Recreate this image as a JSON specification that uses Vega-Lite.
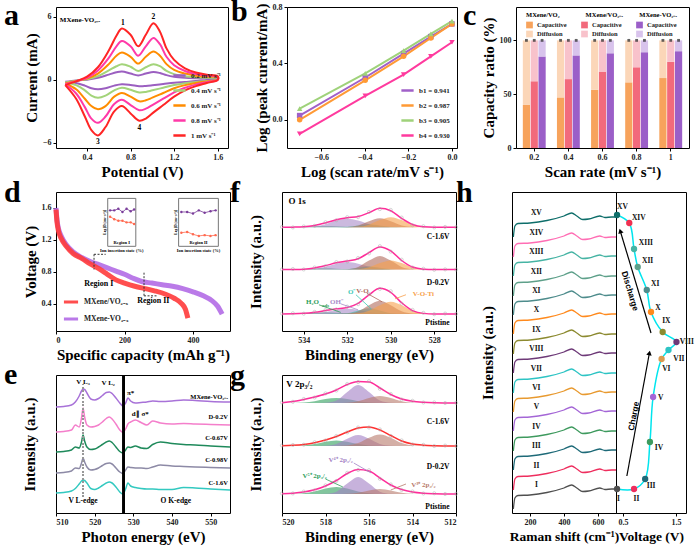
{
"$schema": "https://vega.github.io/schema/vega-lite/v6.json",
"background": "white",
"padding": {"left": 3, "top": -4, "right": 0, "bottom": 0},
"config": {
 "font": "Liberation Serif",
 "view": {"stroke": "#000", "strokeWidth": 1},
 "axis": {"grid": false, "domain": false, "labelFont": "Liberation Serif", "labelFontWeight": "bold", "labelFontSize": 8, "labelColor": "#222", "titleFont": "Liberation Serif", "titleFontWeight": "bold", "titleFontSize": 15, "titleColor": "#000", "tickColor": "#000", "tickSize": 3, "labelPadding": 2, "titlePadding": 3},
 "legend": {"labelFont": "Liberation Serif", "labelFontWeight": "bold", "labelFontSize": 7, "labelColor": "#222", "titleFont": "Liberation Serif", "titleFontWeight": "bold", "titleFontSize": 7, "padding": 2, "rowPadding": 1},
 "title": {"font": "Liberation Serif", "fontSize": 30, "fontWeight": "bold", "anchor": "start", "frame": "group", "offset": 0, "baseline": "alphabetic", "color": "#000"},
 "text": {"font": "Liberation Serif", "fontWeight": "bold"}
},
"spacing": -3,
"resolve": {"scale": {"color": "independent", "shape": "independent", "size": "independent", "angle": "independent"}, "legend": {"color": "independent", "shape": "independent"}},
"vconcat": [
{
 "spacing": 59,
 "bounds": "flush",
 "resolve": {"scale": {"color": "independent", "shape": "independent", "size": "independent", "angle": "independent"}, "legend": {"color": "independent", "shape": "independent"}},
 "hconcat": [
 {
  "width": 172, "height": 141,
  "title": {"text": "a", "dx": -52, "dy": 27.5},
  "data": {"values": [
{"i":0,"p":0.2,"r02":-0.18,"r04":-0.25,"r06":-0.35,"r08":-0.42,"r1":-0.5},
{"i":1,"p":0.3,"r02":-0.05,"r04":-0.08,"r06":-0.1,"r08":-0.12,"r1":-0.15},
{"i":2,"p":0.4,"r02":0.02,"r04":0.05,"r06":0.12,"r08":0.2,"r1":0.3},
{"i":3,"p":0.5,"r02":0.2,"r04":0.35,"r06":0.6,"r08":0.9,"r1":1.2},
{"i":4,"p":0.6,"r02":0.5,"r04":0.9,"r06":1.5,"r08":2.1,"r1":2.8},
{"i":5,"p":0.67,"r02":0.72,"r04":1.3,"r06":2.3,"r08":3.2,"r1":4.2},
{"i":6,"p":0.72,"r02":0.8,"r04":1.5,"r06":2.6,"r08":3.7,"r1":4.9},
{"i":7,"p":0.8,"r02":0.6,"r04":1.25,"r06":2.2,"r08":3.2,"r1":4.3},
{"i":8,"p":0.87,"r02":0.42,"r04":0.85,"r06":1.55,"r08":2.3,"r1":3.2},
{"i":9,"p":0.94,"r02":0.6,"r04":1.2,"r06":2.2,"r08":3.2,"r1":4.3},
{"i":10,"p":1.01,"r02":0.75,"r04":1.5,"r06":2.7,"r08":4.0,"r1":5.4},
{"i":11,"p":1.07,"r02":0.65,"r04":1.3,"r06":2.3,"r08":3.4,"r1":4.6},
{"i":12,"p":1.13,"r02":0.45,"r04":0.85,"r06":1.5,"r08":2.2,"r1":3.0},
{"i":13,"p":1.2,"r02":0.3,"r04":0.55,"r06":0.95,"r08":1.4,"r1":1.9},
{"i":14,"p":1.3,"r02":0.2,"r04":0.35,"r06":0.6,"r08":0.85,"r1":1.1},
{"i":15,"p":1.4,"r02":0.15,"r04":0.25,"r06":0.4,"r08":0.55,"r1":0.7},
{"i":16,"p":1.5,"r02":0.12,"r04":0.2,"r06":0.3,"r08":0.4,"r1":0.5},
{"i":17,"p":1.6,"r02":0.1,"r04":0.18,"r06":0.25,"r08":0.3,"r1":0.35},
{"i":18,"p":1.6,"r02":0.04,"r04":0.03,"r06":0.02,"r08":0.0,"r1":0.0},
{"i":19,"p":1.5,"r02":-0.06,"r04":-0.1,"r06":-0.15,"r08":-0.22,"r1":-0.3},
{"i":20,"p":1.4,"r02":-0.12,"r04":-0.2,"r06":-0.3,"r08":-0.45,"r1":-0.6},
{"i":21,"p":1.3,"r02":-0.2,"r04":-0.32,"r06":-0.5,"r08":-0.75,"r1":-1.0},
{"i":22,"p":1.2,"r02":-0.28,"r04":-0.5,"r06":-0.8,"r08":-1.2,"r1":-1.6},
{"i":23,"p":1.1,"r02":-0.4,"r04":-0.75,"r06":-1.25,"r08":-1.8,"r1":-2.4},
{"i":24,"p":1.0,"r02":-0.52,"r04":-1.0,"r06":-1.7,"r08":-2.4,"r1":-3.2},
{"i":25,"p":0.94,"r02":-0.58,"r04":-1.15,"r06":-1.95,"r08":-2.75,"r1":-3.7},
{"i":26,"p":0.88,"r02":-0.6,"r04":-1.2,"r06":-2.05,"r08":-2.9,"r1":-3.9},
{"i":27,"p":0.8,"r02":-0.48,"r04":-0.95,"r06":-1.6,"r08":-2.4,"r1":-3.2},
{"i":28,"p":0.72,"r02":-0.42,"r04":-0.75,"r06":-1.25,"r08":-1.9,"r1":-2.5},
{"i":29,"p":0.65,"r02":-0.55,"r04":-1.0,"r06":-1.6,"r08":-2.3,"r1":-3.0},
{"i":30,"p":0.57,"r02":-0.8,"r04":-1.5,"r06":-2.5,"r08":-3.5,"r1":-4.5},
{"i":31,"p":0.5,"r02":-0.9,"r04":-1.7,"r06":-2.8,"r08":-4.1,"r1":-5.3},
{"i":32,"p":0.44,"r02":-0.8,"r04":-1.5,"r06":-2.5,"r08":-3.7,"r1":-4.8},
{"i":33,"p":0.38,"r02":-0.55,"r04":-1.0,"r06":-1.8,"r08":-2.6,"r1":-3.5},
{"i":34,"p":0.3,"r02":-0.3,"r04":-0.5,"r06":-0.9,"r08":-1.3,"r1":-1.8},
{"i":35,"p":0.2,"r02":-0.18,"r04":-0.25,"r06":-0.35,"r08":-0.42,"r1":-0.5}
  ]},
  "layer": [
   {"transform": [{"fold": ["r02","r04","r06","r08","r1"], "as": ["rate","cur"]}],
    "mark": {"type": "line", "interpolate": "catmull-rom", "strokeWidth": 2},
    "encoding": {
     "x": {"field": "p", "type": "quantitative", "scale": {"domain": [0.115, 1.695], "nice": false, "zero": false}, "axis": {"values": [0.4,0.8,1.2,1.6], "format": ".1f", "title": "Potential (V)"}},
     "y": {"field": "cur", "type": "quantitative", "scale": {"domain": [-6.5, 6.95], "nice": false, "zero": false}, "axis": {"values": [-6,-3,0,3,6], "title": "Current (mA)"}},
     "color": {"field": "rate", "type": "nominal", "scale": {"domain": ["r02","r04","r06","r08","r1"], "range": ["#9B5FC0","#A3D47A","#FF8C00","#FF3AA8","#FF2525"]},
      "legend": {"title": null, "orient": "bottom-right", "offset": 5, "symbolType": "stroke", "symbolSize": 150, "symbolStrokeWidth": 2.5, "labelFontSize": 7, "rowPadding": 2, "labelExpr": "datum.value=='r02'?'0.2 mV s⁻¹':datum.value=='r04'?'0.4 mV s⁻¹':datum.value=='r06'?'0.6 mV s⁻¹':datum.value=='r08'?'0.8 mV s⁻¹':'1 mV s⁻¹'"}},
     "order": {"field": "i", "type": "quantitative"}
    }},
   {"data": {"values": [{"x":0.15,"y":5.75,"t":"MXene-VO₂₋ₓ"}]},
    "mark": {"type": "text", "align": "left", "baseline": "middle", "fontSize": 7},
    "encoding": {"x": {"field": "x", "type": "quantitative"}, "y": {"field": "y", "type": "quantitative"}, "text": {"field": "t"}}},
   {"data": {"values": [{"x":0.73,"y":5.45,"t":"1"},{"x":1.01,"y":5.95,"t":"2"},{"x":0.5,"y":-5.95,"t":"3"},{"x":0.88,"y":-4.55,"t":"4"}]},
    "mark": {"type": "text", "align": "center", "baseline": "middle", "fontSize": 7.5},
    "encoding": {"x": {"field": "x", "type": "quantitative"}, "y": {"field": "y", "type": "quantitative"}, "text": {"field": "t"}}}
  ]
 },
 {
  "width": 170, "height": 141,
  "title": {"text": "b", "dx": -56, "dy": 27.5},
  "data": {"values": [
{"x":-0.699,"s":"b1 = 0.941","y":0.03},{"x":-0.398,"s":"b1 = 0.941","y":0.30},{"x":-0.222,"s":"b1 = 0.941","y":0.47},{"x":-0.097,"s":"b1 = 0.941","y":0.59},{"x":0,"s":"b1 = 0.941","y":0.68},
{"x":-0.699,"s":"b2 = 0.987","y":0.0},{"x":-0.398,"s":"b2 = 0.987","y":0.28},{"x":-0.222,"s":"b2 = 0.987","y":0.45},{"x":-0.097,"s":"b2 = 0.987","y":0.58},{"x":0,"s":"b2 = 0.987","y":0.68},
{"x":-0.699,"s":"b3 = 0.905","y":0.08},{"x":-0.398,"s":"b3 = 0.905","y":0.33},{"x":-0.222,"s":"b3 = 0.905","y":0.49},{"x":-0.097,"s":"b3 = 0.905","y":0.61},{"x":0,"s":"b3 = 0.905","y":0.70},
{"x":-0.699,"s":"b4 = 0.930","y":-0.10},{"x":-0.398,"s":"b4 = 0.930","y":0.17},{"x":-0.222,"s":"b4 = 0.930","y":0.32},{"x":-0.097,"s":"b4 = 0.930","y":0.45},{"x":0,"s":"b4 = 0.930","y":0.55}
  ]},
  "encoding": {
   "x": {"field": "x", "type": "quantitative", "scale": {"domain": [-0.757, 0.023], "nice": false, "zero": false}, "axis": {"values": [-0.6,-0.4,-0.2,0], "format": ".1f", "title": "Log (scan rate/mV s⁻¹)"}},
   "y": {"field": "y", "type": "quantitative", "scale": {"domain": [-0.2, 0.8], "nice": false, "zero": false}, "axis": {"values": [0,0.4,0.8], "format": ".1f", "title": "Log (peak current/mA)"}},
   "color": {"field": "s", "type": "nominal", "scale": {"domain": ["b1 = 0.941","b2 = 0.987","b3 = 0.905","b4 = 0.930"], "range": ["#A060C8","#FF9A35","#9FD27A","#FF3A9E"]},
    "legend": {"title": null, "orient": "bottom-right", "offset": 5, "symbolType": "stroke", "symbolSize": 150, "symbolStrokeWidth": 2.5, "labelFontSize": 7, "rowPadding": 2}}
  },
  "layer": [
   {"mark": {"type": "line", "strokeWidth": 2}},
   {"transform": [{"filter": "datum.s=='b1 = 0.941'"}], "mark": {"type": "point", "shape": "square", "filled": true, "size": 30, "opacity": 1}},
   {"transform": [{"filter": "datum.s=='b2 = 0.987'"}], "mark": {"type": "point", "shape": "circle", "filled": true, "size": 30, "opacity": 1}},
   {"transform": [{"filter": "datum.s=='b3 = 0.905'"}], "mark": {"type": "point", "shape": "triangle-up", "filled": true, "size": 30, "opacity": 1}},
   {"transform": [{"filter": "datum.s=='b4 = 0.930'"}], "mark": {"type": "point", "shape": "triangle-down", "filled": true, "size": 30, "opacity": 1}}
  ]
 },
 {
  "width": 173, "height": 141,
  "title": {"text": "c", "dx": -53, "dy": 27.5},
  "data": {"values": [
{"r":"0.2","m":"A","k":"A1","part":1,"v":40},{"r":"0.2","m":"A","k":"A2","part":2,"v":60},
{"r":"0.2","m":"B","k":"B1","part":1,"v":62},{"r":"0.2","m":"B","k":"B2","part":2,"v":38},
{"r":"0.2","m":"C","k":"C1","part":1,"v":85},{"r":"0.2","m":"C","k":"C2","part":2,"v":15},
{"r":"0.4","m":"A","k":"A1","part":1,"v":47},{"r":"0.4","m":"A","k":"A2","part":2,"v":53},
{"r":"0.4","m":"B","k":"B1","part":1,"v":64},{"r":"0.4","m":"B","k":"B2","part":2,"v":36},
{"r":"0.4","m":"C","k":"C1","part":1,"v":86},{"r":"0.4","m":"C","k":"C2","part":2,"v":14},
{"r":"0.6","m":"A","k":"A1","part":1,"v":54},{"r":"0.6","m":"A","k":"A2","part":2,"v":46},
{"r":"0.6","m":"B","k":"B1","part":1,"v":71},{"r":"0.6","m":"B","k":"B2","part":2,"v":29},
{"r":"0.6","m":"C","k":"C1","part":1,"v":88},{"r":"0.6","m":"C","k":"C2","part":2,"v":12},
{"r":"0.8","m":"A","k":"A1","part":1,"v":61},{"r":"0.8","m":"A","k":"A2","part":2,"v":39},
{"r":"0.8","m":"B","k":"B1","part":1,"v":75},{"r":"0.8","m":"B","k":"B2","part":2,"v":25},
{"r":"0.8","m":"C","k":"C1","part":1,"v":89},{"r":"0.8","m":"C","k":"C2","part":2,"v":11},
{"r":"1","m":"A","k":"A1","part":1,"v":65},{"r":"1","m":"A","k":"A2","part":2,"v":35},
{"r":"1","m":"B","k":"B1","part":1,"v":80},{"r":"1","m":"B","k":"B2","part":2,"v":20},
{"r":"1","m":"C","k":"C1","part":1,"v":90},{"r":"1","m":"C","k":"C2","part":2,"v":10}
  ]},
  "encoding": {
   "x": {"field": "r", "type": "nominal", "scale": {"paddingInner": 0.33, "paddingOuter": 0.2}, "axis": {"labelAngle": 0, "title": "Scan rate (mV s⁻¹)", "ticks": true}},
   "xOffset": {"field": "m", "type": "nominal", "scale": {"paddingInner": 0.08}}
  },
  "layer": [
   {"mark": {"type": "bar"},
    "encoding": {
     "y": {"field": "v", "type": "quantitative", "stack": "zero", "scale": {"domain": [0, 131], "nice": false}, "axis": {"values": [0,50,100], "title": "Capacity ratio (%)"}},
     "color": {"field": "k", "type": "nominal", "scale": {"domain": ["A1","A2","B1","B2","C1","C2"], "range": ["#F7A35C","#FBD6B8","#F26A7C","#F8C2CB","#9B5FC8","#D8C3EC"]},
      "legend": {"orient": "none", "legendX": 8, "legendY": 3, "columns": 3, "columnPadding": 14, "rowPadding": 2, "symbolType": "square", "symbolSize": 45, "symbolStrokeWidth": 0, "labelFontSize": 6.5, "titleFontSize": 6.5, "titlePadding": 3, "title": "MXene/VO₂\u00a0\u00a0\u00a0\u00a0\u00a0\u00a0\u00a0\u00a0\u00a0\u00a0\u00a0\u00a0\u00a0\u00a0\u00a0\u00a0MXene/VO₂₋ₓ\u00a0\u00a0\u00a0\u00a0\u00a0\u00a0\u00a0\u00a0\u00a0\u00a0MXene-VO₂₋ₓ", "labelExpr": "datum.value[1]=='1' ? 'Capacitive' : 'Diffusion'"}},
     "order": {"field": "part", "type": "quantitative"}
    }},
   {"transform": [{"filter": "datum.part==2"}],
    "mark": {"type": "point", "shape": "square", "filled": true, "color": "#222", "size": 8},
    "encoding": {"y": {"datum": 100}}}
  ]
 }
 ]
},
{
 "spacing": -5,
 "resolve": {"scale": {"color": "independent", "shape": "independent", "size": "independent", "angle": "independent"}, "legend": {"color": "independent", "shape": "independent"}},
 "hconcat": [
  {
   "spacing": 44,
   "bounds": "flush",
   "resolve": {"scale": {"color": "independent", "shape": "independent", "size": "independent", "angle": "independent"}, "legend": {"color": "independent", "shape": "independent"}},
   "vconcat": [
   {
    "width": 174, "height": 139,
    "title": {"text": "d", "dx": -52, "dy": 19.5},
    "resolve": {"scale": {"color": "independent"}, "legend": {"color": "independent"}},
    "layer": [
     {"data": {"values": [{"x":151,"x2":233,"y":1.12,"y2":1.72},{"x":358,"x2":474,"y":1.12,"y2":1.72}]},
      "mark": {"type": "rect", "fill": "white", "stroke": "#777", "strokeWidth": 1},
      "encoding": {"x": {"field": "x", "type": "quantitative", "scale": {"domain": [0, 508], "nice": false}, "axis": {"values": [0,100,200,300,400,500], "title": "Specific capacity (mAh g⁻¹)"}}, "x2": {"field": "x2"},
       "y": {"field": "y", "type": "quantitative", "scale": {"domain": [0.06, 1.8], "nice": false, "zero": false}, "axis": {"values": [0.4,0.8,1.2,1.6], "format": ".1f", "title": "Voltage (V)"}}, "y2": {"field": "y2"}}},
     {"data": {"values": [
{"g":"1p","x":158,"y":1.57},{"g":"1p","x":170,"y":1.57},{"g":"1p","x":182,"y":1.59},{"g":"1p","x":194,"y":1.55},{"g":"1p","x":206,"y":1.59},{"g":"1p","x":218,"y":1.56},{"g":"1p","x":228,"y":1.58},
{"g":"1r","x":158,"y":1.49},{"g":"1r","x":170,"y":1.46},{"g":"1r","x":182,"y":1.44},{"g":"1r","x":194,"y":1.44},{"g":"1r","x":206,"y":1.42},{"g":"1r","x":218,"y":1.42},{"g":"1r","x":228,"y":1.40},
{"g":"2p","x":366,"y":1.55},{"g":"2p","x":383,"y":1.55},{"g":"2p","x":400,"y":1.53},{"g":"2p","x":417,"y":1.57},{"g":"2p","x":434,"y":1.54},{"g":"2p","x":451,"y":1.56},{"g":"2p","x":466,"y":1.57},
{"g":"2r","x":366,"y":1.29},{"g":"2r","x":383,"y":1.30},{"g":"2r","x":400,"y":1.27},{"g":"2r","x":417,"y":1.25},{"g":"2r","x":434,"y":1.26},{"g":"2r","x":451,"y":1.25},{"g":"2r","x":466,"y":1.26}
      ]},
      "encoding": {"x": {"field": "x", "type": "quantitative"}, "y": {"field": "y", "type": "quantitative"},
       "color": {"field": "g", "type": "nominal", "scale": {"domain": ["1p","1r","2p","2r"], "range": ["#7A3D9A","#FF6A50","#7A3D9A","#FF6A50"]}, "legend": null}},
      "layer": [
       {"mark": {"type": "line", "strokeWidth": 0.8}},
       {"mark": {"type": "point", "filled": true, "size": 6, "opacity": 1}}
      ]},
     {"data": {"values": [{"x":192,"y":1.06,"t":"Ion insertion state (%)"},{"x":416,"y":1.06,"t":"Ion insertion state (%)"},{"x":192,"y":1.165,"t":"Region I"},{"x":416,"y":1.165,"t":"Region II"}]},
      "mark": {"type": "text", "fontSize": 4.5, "baseline": "middle"},
      "encoding": {"x": {"field": "x", "type": "quantitative"}, "y": {"field": "y", "type": "quantitative"}, "text": {"field": "t"}}},
     {"data": {"values": [{"x":143,"y":1.42,"t":"Log [D (cm² s⁻¹)]"},{"x":350,"y":1.42,"t":"Log [D (cm² s⁻¹)]"}]},
      "mark": {"type": "text", "fontSize": 3.5, "angle": -90, "baseline": "middle"},
      "encoding": {"x": {"field": "x", "type": "quantitative"}, "y": {"field": "y", "type": "quantitative"}, "text": {"field": "t"}}},
     {"data": {"values": [
{"c":"MXene-VO₂₋ₓ","x":0,"y":1.6},{"c":"MXene-VO₂₋ₓ","x":3,"y":1.45},{"c":"MXene-VO₂₋ₓ","x":8,"y":1.33},{"c":"MXene-VO₂₋ₓ","x":15,"y":1.25},{"c":"MXene-VO₂₋ₓ","x":30,"y":1.14},{"c":"MXene-VO₂₋ₓ","x":50,"y":1.05},{"c":"MXene-VO₂₋ₓ","x":75,"y":0.98},{"c":"MXene-VO₂₋ₓ","x":100,"y":0.93},{"c":"MXene-VO₂₋ₓ","x":125,"y":0.89},{"c":"MXene-VO₂₋ₓ","x":150,"y":0.85},{"c":"MXene-VO₂₋ₓ","x":175,"y":0.81},{"c":"MXene-VO₂₋ₓ","x":200,"y":0.77},{"c":"MXene-VO₂₋ₓ","x":225,"y":0.72},{"c":"MXene-VO₂₋ₓ","x":250,"y":0.68},{"c":"MXene-VO₂₋ₓ","x":280,"y":0.66},{"c":"MXene-VO₂₋ₓ","x":310,"y":0.64},{"c":"MXene-VO₂₋ₓ","x":340,"y":0.62},{"c":"MXene-VO₂₋ₓ","x":370,"y":0.59},{"c":"MXene-VO₂₋ₓ","x":400,"y":0.55},{"c":"MXene-VO₂₋ₓ","x":430,"y":0.5},{"c":"MXene-VO₂₋ₓ","x":455,"y":0.44},{"c":"MXene-VO₂₋ₓ","x":472,"y":0.37},{"c":"MXene-VO₂₋ₓ","x":485,"y":0.27},
{"c":"MXene/VO₂₋ₓ","x":0,"y":1.58},{"c":"MXene/VO₂₋ₓ","x":3,"y":1.42},{"c":"MXene/VO₂₋ₓ","x":8,"y":1.3},{"c":"MXene/VO₂₋ₓ","x":15,"y":1.22},{"c":"MXene/VO₂₋ₓ","x":30,"y":1.12},{"c":"MXene/VO₂₋ₓ","x":50,"y":1.03},{"c":"MXene/VO₂₋ₓ","x":75,"y":0.97},{"c":"MXene/VO₂₋ₓ","x":100,"y":0.9},{"c":"MXene/VO₂₋ₓ","x":125,"y":0.84},{"c":"MXene/VO₂₋ₓ","x":150,"y":0.77},{"c":"MXene/VO₂₋ₓ","x":175,"y":0.7},{"c":"MXene/VO₂₋ₓ","x":200,"y":0.66},{"c":"MXene/VO₂₋ₓ","x":230,"y":0.62},{"c":"MXene/VO₂₋ₓ","x":260,"y":0.59},{"c":"MXene/VO₂₋ₓ","x":290,"y":0.56},{"c":"MXene/VO₂₋ₓ","x":320,"y":0.52},{"c":"MXene/VO₂₋ₓ","x":345,"y":0.47},{"c":"MXene/VO₂₋ₓ","x":365,"y":0.41},{"c":"MXene/VO₂₋ₓ","x":378,"y":0.33},{"c":"MXene/VO₂₋ₓ","x":385,"y":0.22}
      ]},
      "mark": {"type": "line", "strokeWidth": 5, "opacity": 0.9, "interpolate": "monotone"},
      "encoding": {"x": {"field": "x", "type": "quantitative"}, "y": {"field": "y", "type": "quantitative"},
       "color": {"field": "c", "type": "nominal", "scale": {"domain": ["MXene/VO₂₋ₓ","MXene-VO₂₋ₓ"], "range": ["#FF3B3B","#B36BE6"]},
        "legend": {"title": null, "orient": "bottom-left", "offset": 4, "symbolType": "stroke", "symbolSize": 200, "symbolStrokeWidth": 3, "labelFontSize": 7.5, "rowPadding": 2}}}},
     {"data": {"values": [{"x":111,"y":1.02,"x2":111,"y2":0.83},{"x":111,"y":1.02,"x2":145,"y2":1.02},{"x":257,"y":0.79,"x2":257,"y2":0.5},{"x":257,"y":0.5,"x2":296,"y2":0.5}]},
      "mark": {"type": "rule", "strokeDash": [2, 1.5], "color": "#333", "strokeWidth": 1},
      "encoding": {"x": {"field": "x", "type": "quantitative"}, "y": {"field": "y", "type": "quantitative"}, "x2": {"field": "x2"}, "y2": {"field": "y2"}}},
     {"data": {"values": [{"x":125,"y":0.65,"t":"Region I"},{"x":284,"y":0.43,"t":"Region II"}]},
      "mark": {"type": "text", "fontSize": 8, "baseline": "middle"},
      "encoding": {"x": {"field": "x", "type": "quantitative"}, "y": {"field": "y", "type": "quantitative"}, "text": {"field": "t"}}}
    ]
   },
   {
    "width": 174, "height": 138,
    "title": {"text": "e", "dx": -52, "dy": 19.5},
    "data": {"values": [
{"x":510,"m":10.6,"dd":8.1,"c67":6.1,"c98":4.0,"c16":2.0},
{"x":512,"m":10.65,"dd":8.15,"c67":6.15,"c98":4.05,"c16":2.05},
{"x":514,"m":10.8,"dd":8.3,"c67":6.3,"c98":4.2,"c16":2.2},
{"x":515,"m":11.1,"dd":8.8,"c67":6.6,"c98":4.5,"c16":2.45},
{"x":516,"m":11.7,"dd":8.6,"c67":6.5,"c98":4.45,"c16":2.9},
{"x":516.6,"m":12.2,"dd":9.5,"c67":7.1,"c98":5.0,"c16":3.2},
{"x":517,"m":12.4,"dd":10.5,"c67":7.8,"c98":5.5,"c16":3.3},
{"x":517.4,"m":12.35,"dd":9.6,"c67":7.2,"c98":5.1,"c16":3.25},
{"x":518,"m":12.0,"dd":8.8,"c67":6.6,"c98":4.6,"c16":3.0},
{"x":519,"m":11.4,"dd":8.6,"c67":6.35,"c98":4.3,"c16":2.45},
{"x":520,"m":11.3,"dd":8.65,"c67":6.4,"c98":4.35,"c16":2.35},
{"x":521,"m":11.45,"dd":8.8,"c67":6.6,"c98":4.5,"c16":2.5},
{"x":522,"m":11.75,"dd":9.1,"c67":6.85,"c98":4.75,"c16":2.75},
{"x":523,"m":12.05,"dd":9.45,"c67":7.1,"c98":4.95,"c16":3.0},
{"x":523.8,"m":12.1,"dd":9.6,"c67":7.2,"c98":5.0,"c16":3.1},
{"x":524.5,"m":11.95,"dd":9.4,"c67":7.05,"c98":4.9,"c16":3.0},
{"x":525.5,"m":11.5,"dd":8.9,"c67":6.6,"c98":4.5,"c16":2.6},
{"x":526.5,"m":11.0,"dd":8.3,"c67":6.15,"c98":4.1,"c16":2.1},
{"x":527.3,"m":10.7,"dd":8.05,"c67":6.0,"c98":3.95,"c16":1.9},
{"x":528,"m":11.0,"dd":8.4,"c67":6.3,"c98":4.3,"c16":2.4},
{"x":528.6,"m":11.5,"dd":8.9,"c67":6.6,"c98":4.6,"c16":3.0},
{"x":529.3,"m":11.2,"dd":9.1,"c67":6.55,"c98":4.55,"c16":2.7},
{"x":530.5,"m":11.0,"dd":9.3,"c67":6.7,"c98":4.5,"c16":2.55},
{"x":532,"m":11.05,"dd":9.05,"c67":6.5,"c98":4.5,"c16":2.45},
{"x":533.5,"m":11.1,"dd":8.8,"c67":6.45,"c98":4.45,"c16":2.4},
{"x":535,"m":11.2,"dd":9.2,"c67":6.85,"c98":4.6,"c16":2.4},
{"x":537,"m":11.15,"dd":9.0,"c67":7.1,"c98":4.8,"c16":2.35},
{"x":540,"m":11.2,"dd":8.9,"c67":6.95,"c98":4.7,"c16":2.35},
{"x":543,"m":11.3,"dd":8.95,"c67":6.85,"c98":4.65,"c16":2.55},
{"x":546,"m":11.25,"dd":8.9,"c67":6.8,"c98":4.6,"c16":2.5},
{"x":550,"m":11.15,"dd":8.85,"c67":6.7,"c98":4.55,"c16":2.4},
{"x":555,"m":11.1,"dd":8.8,"c67":6.6,"c98":4.5,"c16":2.3}
    ]},
    "layer": [
     {"transform": [{"fold": ["m","dd","c67","c98","c16"], "as": ["k","val"]}],
      "mark": {"type": "line", "interpolate": "monotone", "strokeWidth": 1.5},
      "encoding": {
       "x": {"field": "x", "type": "quantitative", "scale": {"domain": [510, 555], "nice": false, "zero": false}, "axis": {"values": [510,520,530,540,550], "title": "Photon energy (eV)"}},
       "y": {"field": "val", "type": "quantitative", "scale": {"domain": [0, 13.8], "nice": false}, "axis": {"labels": false, "ticks": false, "title": "Intensity (a.u.)", "titlePadding": 19}},
       "color": {"field": "k", "type": "nominal", "scale": {"domain": ["m","dd","c67","c98","c16"], "range": ["#A872D8","#F47FCB","#1F8A5B","#8D8AA6","#33C9C0"]}, "legend": null}
      }},
     {"mark": {"type": "rule", "color": "#000", "strokeWidth": 1.5}, "encoding": {"x": {"datum": 527.5}}},
     {"mark": {"type": "rule", "color": "#999", "strokeWidth": 1, "strokeDash": [1.5, 2]}, "encoding": {"x": {"datum": 517}, "y": {"datum": 1.6}, "y2": {"datum": 12.9}}},
     {"data": {"values": [{"x":517,"y":13.1,"t":"V L₃"},{"x":523.5,"y":13.0,"t":"V L₂"},{"x":529.3,"y":12.0,"t":"π*"},{"x":531.8,"y":9.9,"t":"d∥ σ*"}]},
      "mark": {"type": "text", "baseline": "middle", "fontSize": 7},
      "encoding": {"x": {"field": "x", "type": "quantitative"}, "y": {"field": "y", "type": "quantitative"}, "text": {"field": "t"}}},
     {"data": {"values": [{"x":554.5,"y":11.6,"t":"MXene-VO₂₋ₓ"},{"x":554.5,"y":9.6,"t":"D-0.2V"},{"x":554.5,"y":7.5,"t":"C-0.67V"},{"x":554.5,"y":5.3,"t":"C-0.98V"},{"x":554.5,"y":3.0,"t":"C-1.6V"}]},
      "mark": {"type": "text", "align": "right", "baseline": "middle", "fontSize": 6.5},
      "encoding": {"x": {"field": "x", "type": "quantitative"}, "y": {"field": "y", "type": "quantitative"}, "text": {"field": "t"}}},
     {"data": {"values": [{"x":517,"y":1.2,"t":"V L-edge"},{"x":541,"y":1.2,"t":"O K-edge"}]},
      "mark": {"type": "text", "baseline": "middle", "fontSize": 7.5},
      "encoding": {"x": {"field": "x", "type": "quantitative"}, "y": {"field": "y", "type": "quantitative"}, "text": {"field": "t"}}}
    ]
   }
   ]
  },
  {
   "spacing": 44,
   "bounds": "flush",
   "resolve": {"scale": {"color": "independent", "shape": "independent", "size": "independent", "angle": "independent"}, "legend": {"color": "independent", "shape": "independent"}},
   "vconcat": [
   {
    "width": 174, "height": 139,
    "title": {"text": "f", "dx": -52, "dy": 19.5},
    "data": {"values": [
{"s":"P","x":535,"b":1.7,"e":1.7,"d":1.73,"g":1.7,"p":1.7,"t":1.7,"w":1.7,"o":1.7},
{"s":"P","x":534.5,"b":1.7,"e":1.71,"d":1.76,"g":1.71,"p":1.7,"t":1.7,"w":1.7,"o":1.7},
{"s":"P","x":534,"b":1.7,"e":1.75,"d":1.72,"g":1.74,"p":1.71,"t":1.7,"w":1.7,"o":1.7},
{"s":"P","x":533.5,"b":1.7,"e":1.86,"d":1.9,"g":1.81,"p":1.75,"t":1.7,"w":1.7,"o":1.7},
{"s":"P","x":533,"b":1.7,"e":2.03,"d":2.08,"g":1.85,"p":1.88,"t":1.7,"w":1.7,"o":1.7},
{"s":"P","x":532.5,"b":1.7,"e":2.2,"d":2.14,"g":1.81,"p":2.09,"t":1.71,"w":1.7,"o":1.7},
{"s":"P","x":532,"b":1.7,"e":2.34,"d":2.42,"g":1.74,"p":2.2,"t":1.77,"w":1.73,"o":1.7},
{"s":"P","x":531.5,"b":1.7,"e":2.74,"d":2.66,"g":1.71,"p":2.09,"t":2.04,"w":1.95,"o":1.75},
{"s":"P","x":531,"b":1.7,"e":3.59,"d":3.66,"g":1.7,"p":1.88,"t":2.25,"w":2.56,"o":2.0},
{"s":"P","x":530.5,"b":1.7,"e":4.24,"d":4.18,"g":1.7,"p":1.75,"t":2.04,"w":3.0,"o":2.55},
{"s":"P","x":530,"b":1.7,"e":3.84,"d":3.95,"g":1.7,"p":1.71,"t":1.77,"w":2.56,"o":2.9},
{"s":"P","x":529.5,"b":1.7,"e":2.8,"d":2.72,"g":1.7,"p":1.7,"t":1.71,"w":1.95,"o":2.55},
{"s":"P","x":529,"b":1.7,"e":2.03,"d":2.1,"g":1.7,"p":1.7,"t":1.7,"w":1.73,"o":2.0},
{"s":"P","x":528.5,"b":1.7,"e":1.75,"d":1.8,"g":1.7,"p":1.7,"t":1.7,"w":1.7,"o":1.75},
{"s":"P","x":528,"b":1.7,"e":1.7,"d":1.67,"g":1.7,"p":1.7,"t":1.7,"w":1.7,"o":1.7},
{"s":"P","x":527.5,"b":1.7,"e":1.7,"d":1.73,"g":1.7,"p":1.7,"t":1.7,"w":1.7,"o":1.7},
{"s":"P","x":527,"b":1.7,"e":1.7,"d":1.7,"g":1.7,"p":1.7,"t":1.7,"w":1.7,"o":1.7},
{"s":"D","x":535,"b":6.1,"e":6.1,"d":6.12,"g":6.1,"p":6.1,"t":6.1,"w":6.1,"o":6.1},
{"s":"D","x":534.5,"b":6.1,"e":6.11,"d":6.15,"g":6.11,"p":6.1,"t":6.1,"w":6.1,"o":6.1},
{"s":"D","x":534,"b":6.1,"e":6.14,"d":6.11,"g":6.13,"p":6.11,"t":6.1,"w":6.1,"o":6.1},
{"s":"D","x":533.5,"b":6.1,"e":6.26,"d":6.3,"g":6.19,"p":6.18,"t":6.1,"w":6.1,"o":6.1},
{"s":"D","x":533,"b":6.1,"e":6.49,"d":6.44,"g":6.22,"p":6.37,"t":6.1,"w":6.1,"o":6.1},
{"s":"D","x":532.5,"b":6.1,"e":6.77,"d":6.84,"g":6.19,"p":6.68,"t":6.1,"w":6.1,"o":6.1},
{"s":"D","x":532,"b":6.1,"e":6.95,"d":6.9,"g":6.13,"p":6.85,"t":6.14,"w":6.13,"o":6.1},
{"s":"D","x":531.5,"b":6.1,"e":7.17,"d":7.25,"g":6.11,"p":6.68,"t":6.28,"w":6.36,"o":6.14},
{"s":"D","x":531,"b":6.1,"e":7.78,"d":7.7,"g":6.1,"p":6.37,"t":6.4,"w":6.99,"o":6.32},
{"s":"D","x":530.5,"b":6.1,"e":8.35,"d":8.42,"g":6.1,"p":6.18,"t":6.28,"w":7.45,"o":6.74},
{"s":"D","x":530,"b":6.1,"e":7.95,"d":7.88,"g":6.1,"p":6.11,"t":6.14,"w":6.99,"o":7.0},
{"s":"D","x":529.5,"b":6.1,"e":7.0,"d":7.08,"g":6.1,"p":6.1,"t":6.1,"w":6.36,"o":6.74},
{"s":"D","x":529,"b":6.1,"e":6.35,"d":6.3,"g":6.1,"p":6.1,"t":6.1,"w":6.13,"o":6.32},
{"s":"D","x":528.5,"b":6.1,"e":6.14,"d":6.18,"g":6.1,"p":6.1,"t":6.1,"w":6.1,"o":6.14},
{"s":"D","x":528,"b":6.1,"e":6.1,"d":6.08,"g":6.1,"p":6.1,"t":6.1,"w":6.1,"o":6.1},
{"s":"D","x":527.5,"b":6.1,"e":6.1,"d":6.12,"g":6.1,"p":6.1,"t":6.1,"w":6.1,"o":6.1},
{"s":"D","x":527,"b":6.1,"e":6.1,"d":6.1,"g":6.1,"p":6.1,"t":6.1,"w":6.1,"o":6.1},
{"s":"C","x":535,"b":10.3,"e":10.3,"d":10.33,"g":10.3,"p":10.3,"t":10.3,"w":10.3,"o":10.3},
{"s":"C","x":534.5,"b":10.3,"e":10.31,"d":10.28,"g":10.31,"p":10.3,"t":10.3,"w":10.3,"o":10.3},
{"s":"C","x":534,"b":10.3,"e":10.34,"d":10.38,"g":10.33,"p":10.31,"t":10.3,"w":10.3,"o":10.3},
{"s":"C","x":533.5,"b":10.3,"e":10.47,"d":10.44,"g":10.39,"p":10.39,"t":10.3,"w":10.3,"o":10.3},
{"s":"C","x":533,"b":10.3,"e":10.73,"d":10.8,"g":10.42,"p":10.61,"t":10.3,"w":10.3,"o":10.3},
{"s":"C","x":532.5,"b":10.3,"e":11.05,"d":11.0,"g":10.39,"p":10.96,"t":10.3,"w":10.3,"o":10.3},
{"s":"C","x":532,"b":10.3,"e":11.24,"d":11.3,"g":10.33,"p":11.15,"t":10.34,"w":10.32,"o":10.3},
{"s":"C","x":531.5,"b":10.3,"e":11.36,"d":11.3,"g":10.31,"p":10.96,"t":10.48,"w":10.47,"o":10.34},
{"s":"C","x":531,"b":10.3,"e":11.75,"d":11.82,"g":10.3,"p":10.61,"t":10.6,"w":10.89,"o":10.55},
{"s":"C","x":530.5,"b":10.3,"e":12.18,"d":12.1,"g":10.3,"p":10.39,"t":10.48,"w":11.2,"o":11.01},
{"s":"C","x":530,"b":10.3,"e":11.94,"d":12.02,"g":10.3,"p":10.31,"t":10.34,"w":10.89,"o":11.3},
{"s":"C","x":529.5,"b":10.3,"e":11.18,"d":11.26,"g":10.3,"p":10.3,"t":10.3,"w":10.47,"o":11.01},
{"s":"C","x":529,"b":10.3,"e":10.57,"d":10.5,"g":10.3,"p":10.3,"t":10.3,"w":10.32,"o":10.55},
{"s":"C","x":528.5,"b":10.3,"e":10.34,"d":10.4,"g":10.3,"p":10.3,"t":10.3,"w":10.3,"o":10.34},
{"s":"C","x":528,"b":10.3,"e":10.3,"d":10.28,"g":10.3,"p":10.3,"t":10.3,"w":10.3,"o":10.3},
{"s":"C","x":527.5,"b":10.3,"e":10.3,"d":10.33,"g":10.3,"p":10.3,"t":10.3,"w":10.3,"o":10.3},
{"s":"C","x":527,"b":10.3,"e":10.3,"d":10.3,"g":10.3,"p":10.3,"t":10.3,"w":10.3,"o":10.3}
    ]},
    "layer": [
     {"transform": [{"fold": ["g","p","t","w","o"], "as": ["comp","val"]}],
      "mark": {"type": "area", "interpolate": "monotone", "opacity": 0.6},
      "encoding": {
       "x": {"field": "x", "type": "quantitative", "scale": {"domain": [527, 535], "reverse": true, "nice": false, "zero": false}, "axis": {"values": [528,530,532,534], "title": "Binding energy (eV)"}},
       "y": {"field": "val", "type": "quantitative", "scale": {"domain": [0, 13.8], "nice": false}, "axis": {"labels": false, "ticks": false, "title": "Intensity (a.u.)", "titlePadding": 19}},
       "y2": {"field": "b"},
       "color": {"field": "comp", "type": "nominal", "scale": {"domain": ["g","p","t","w","o"], "range": ["#2E9E5B","#A98BC8","#3CC9B5","#B06A5C","#F7A04B"]}, "legend": null},
       "detail": {"field": "s"}
      }},
     {"mark": {"type": "line", "interpolate": "monotone", "color": "#FF2D9A", "strokeWidth": 1.5},
      "encoding": {"x": {"field": "x", "type": "quantitative"}, "y": {"field": "e", "type": "quantitative"}, "detail": {"field": "s"}}},
     {"mark": {"type": "point", "shape": "circle", "filled": false, "color": "#AAAAAA", "size": 10, "strokeWidth": 0.7},
      "encoding": {"x": {"field": "x", "type": "quantitative"}, "y": {"field": "d", "type": "quantitative"}}},
     {"data": {"values": [{"x":533.3,"y":2.6,"x2":532.3,"y2":1.85,"c":"g"},{"x":532.3,"y":2.7,"x2":531.5,"y2":2.1,"c":"p"},{"x":531.6,"y":3.6,"x2":530.9,"y2":2.2,"c":"t"},{"x":531.1,"y":3.75,"x2":530.4,"y2":2.9,"c":"w"},{"x":529.3,"y":3.6,"x2":529.8,"y2":3.2,"c":"o"}]},
      "mark": {"type": "rule", "strokeWidth": 0.8},
      "encoding": {"x": {"field": "x", "type": "quantitative"}, "y": {"field": "y", "type": "quantitative"}, "x2": {"field": "x2"}, "y2": {"field": "y2"}, "color": {"field": "c", "type": "nominal", "legend": null}}},
     {"data": {"values": [{"x":533.6,"y":2.85,"t":"H₂O","c":"g","f":7},{"x":533.0,"y":2.6,"t":"ads","c":"g","f":5},{"x":532.5,"y":2.9,"t":"OH⁻","c":"p","f":7},{"x":531.8,"y":3.85,"t":"O⁻","c":"t","f":7},{"x":531.3,"y":4.0,"t":"V-O","c":"w","f":7},{"x":528.5,"y":3.7,"t":"V-O-Ti","c":"o","f":7}]},
      "mark": {"type": "text", "baseline": "middle"},
      "encoding": {"x": {"field": "x", "type": "quantitative"}, "y": {"field": "y", "type": "quantitative"}, "text": {"field": "t"}, "color": {"field": "c", "type": "nominal", "legend": null}, "size": {"field": "f", "type": "quantitative", "scale": null}}},
     {"data": {"values": [{"x":534.7,"y":12.9,"t":"O 1s"}]},
      "mark": {"type": "text", "align": "left", "baseline": "middle", "fontSize": 9},
      "encoding": {"x": {"field": "x", "type": "quantitative"}, "y": {"field": "y", "type": "quantitative"}, "text": {"field": "t"}}},
     {"data": {"values": [{"x":527.3,"y":9.3,"t":"C-1.6V"},{"x":527.3,"y":4.8,"t":"D-0.2V"},{"x":527.3,"y":0.8,"t":"Ptistine"}]},
      "mark": {"type": "text", "align": "right", "baseline": "middle", "fontSize": 7.5},
      "encoding": {"x": {"field": "x", "type": "quantitative"}, "y": {"field": "y", "type": "quantitative"}, "text": {"field": "t"}}}
    ]
   },
   {
    "width": 174, "height": 138,
    "title": {"text": "g", "dx": -52, "dy": 19.5},
    "data": {"values": [
{"s":"P","x":520,"b":1.9,"e":1.92,"d":1.95,"q":1.9,"u":1.9,"r":1.9},
{"s":"P","x":519.5,"b":1.9,"e":1.98,"d":1.96,"q":1.91,"u":1.9,"r":1.9},
{"s":"P","x":519,"b":1.9,"e":2.1,"d":2.14,"q":1.97,"u":1.9,"r":1.9},
{"s":"P","x":518.5,"b":1.9,"e":2.32,"d":2.28,"q":2.15,"u":1.9,"r":1.9},
{"s":"P","x":518,"b":1.9,"e":2.7,"d":2.76,"q":2.44,"u":1.92,"r":1.9},
{"s":"P","x":517.5,"b":1.9,"e":3.25,"d":3.2,"q":2.6,"u":2.13,"r":1.9},
{"s":"P","x":517,"b":1.9,"e":3.95,"d":4.02,"q":2.44,"u":2.94,"r":1.92},
{"s":"P","x":516.5,"b":1.9,"e":4.35,"d":4.3,"q":2.15,"u":3.6,"r":2.03},
{"s":"P","x":516,"b":1.9,"e":4.2,"d":4.28,"q":1.97,"u":2.94,"r":2.26},
{"s":"P","x":515.5,"b":1.9,"e":3.5,"d":3.42,"q":1.91,"u":2.13,"r":2.4},
{"s":"P","x":515,"b":1.9,"e":2.8,"d":2.86,"q":1.9,"u":1.92,"r":2.26},
{"s":"P","x":514.5,"b":1.9,"e":2.35,"d":2.3,"q":1.9,"u":1.9,"r":2.03},
{"s":"P","x":514,"b":1.9,"e":2.1,"d":2.15,"q":1.9,"u":1.9,"r":1.92},
{"s":"P","x":513.5,"b":1.9,"e":1.98,"d":1.95,"q":1.9,"u":1.9,"r":1.9},
{"s":"P","x":513,"b":1.9,"e":1.93,"d":1.97,"q":1.9,"u":1.9,"r":1.9},
{"s":"P","x":512.5,"b":1.9,"e":1.91,"d":1.9,"q":1.9,"u":1.9,"r":1.9},
{"s":"P","x":512,"b":1.9,"e":1.9,"d":1.92,"q":1.9,"u":1.9,"r":1.9},
{"s":"D","x":520,"b":6.7,"e":6.72,"d":6.75,"q":6.7,"u":6.7,"r":6.7},
{"s":"D","x":519.5,"b":6.7,"e":6.77,"d":6.8,"q":6.71,"u":6.7,"r":6.7},
{"s":"D","x":519,"b":6.7,"e":6.86,"d":6.83,"q":6.76,"u":6.7,"r":6.7},
{"s":"D","x":518.5,"b":6.7,"e":7.03,"d":7.08,"q":6.9,"u":6.7,"r":6.7},
{"s":"D","x":518,"b":6.7,"e":7.3,"d":7.25,"q":7.13,"u":6.73,"r":6.7},
{"s":"D","x":517.5,"b":6.7,"e":7.65,"d":7.7,"q":7.25,"u":6.91,"r":6.7},
{"s":"D","x":517,"b":6.7,"e":8.1,"d":8.06,"q":7.13,"u":7.43,"r":6.75},
{"s":"D","x":516.5,"b":6.7,"e":8.5,"d":8.55,"q":6.9,"u":7.8,"r":6.99},
{"s":"D","x":516,"b":6.7,"e":8.6,"d":8.55,"q":6.76,"u":7.43,"r":7.52},
{"s":"D","x":515.5,"b":6.7,"e":8.3,"d":8.36,"q":6.71,"u":6.91,"r":7.85},
{"s":"D","x":515,"b":6.7,"e":7.75,"d":7.7,"q":6.7,"u":6.73,"r":7.52},
{"s":"D","x":514.5,"b":6.7,"e":7.2,"d":7.26,"q":6.7,"u":6.7,"r":6.99},
{"s":"D","x":514,"b":6.7,"e":6.9,"d":6.86,"q":6.7,"u":6.7,"r":6.75},
{"s":"D","x":513.5,"b":6.7,"e":6.78,"d":6.82,"q":6.7,"u":6.7,"r":6.7},
{"s":"D","x":513,"b":6.7,"e":6.73,"d":6.7,"q":6.7,"u":6.7,"r":6.7},
{"s":"D","x":512.5,"b":6.7,"e":6.71,"d":6.74,"q":6.7,"u":6.7,"r":6.7},
{"s":"D","x":512,"b":6.7,"e":6.7,"d":6.7,"q":6.7,"u":6.7,"r":6.7},
{"s":"C","x":520,"b":11.0,"e":11.02,"d":11.05,"q":11.0,"u":11.0,"r":11.0},
{"s":"C","x":519.5,"b":11.0,"e":11.15,"d":11.12,"q":11.01,"u":11.0,"r":11.0},
{"s":"C","x":519,"b":11.0,"e":11.35,"d":11.4,"q":11.05,"u":11.0,"r":11.0},
{"s":"C","x":518.5,"b":11.0,"e":11.6,"d":11.55,"q":11.18,"u":11.0,"r":11.0},
{"s":"C","x":518,"b":11.0,"e":11.9,"d":11.96,"q":11.39,"u":11.02,"r":11.0},
{"s":"C","x":517.5,"b":11.0,"e":12.3,"d":12.25,"q":11.5,"u":11.24,"r":11.0},
{"s":"C","x":517,"b":11.0,"e":12.85,"d":12.9,"q":11.39,"u":12.1,"r":11.03},
{"s":"C","x":516.5,"b":11.0,"e":13.15,"d":13.1,"q":11.18,"u":12.8,"r":11.18},
{"s":"C","x":516,"b":11.0,"e":13.1,"d":13.18,"q":11.05,"u":12.1,"r":11.5},
{"s":"C","x":515.5,"b":11.0,"e":12.5,"d":12.42,"q":11.01,"u":11.24,"r":11.7},
{"s":"C","x":515,"b":11.0,"e":11.85,"d":11.9,"q":11.0,"u":11.02,"r":11.5},
{"s":"C","x":514.5,"b":11.0,"e":11.4,"d":11.35,"q":11.0,"u":11.0,"r":11.18},
{"s":"C","x":514,"b":11.0,"e":11.18,"d":11.22,"q":11.0,"u":11.0,"r":11.03},
{"s":"C","x":513.5,"b":11.0,"e":11.08,"d":11.05,"q":11.0,"u":11.0,"r":11.0},
{"s":"C","x":513,"b":11.0,"e":11.03,"d":11.06,"q":11.0,"u":11.0,"r":11.0},
{"s":"C","x":512.5,"b":11.0,"e":11.01,"d":11.0,"q":11.0,"u":11.0,"r":11.0},
{"s":"C","x":512,"b":11.0,"e":11.0,"d":11.02,"q":11.0,"u":11.0,"r":11.0}
    ]},
    "layer": [
     {"transform": [{"fold": ["q","u","r"], "as": ["comp","val"]}],
      "mark": {"type": "area", "interpolate": "monotone", "opacity": 0.6},
      "encoding": {
       "x": {"field": "x", "type": "quantitative", "scale": {"domain": [512, 520], "reverse": true, "nice": false, "zero": false}, "axis": {"values": [512,514,516,518,520], "title": "Binding energy (eV)"}},
       "y": {"field": "val", "type": "quantitative", "scale": {"domain": [0, 13.8], "nice": false}, "axis": {"labels": false, "ticks": false, "title": "Intensity (a.u.)", "titlePadding": 19}},
       "y2": {"field": "b"},
       "color": {"field": "comp", "type": "nominal", "scale": {"domain": ["q","u","r"], "range": ["#2E9E5B","#A27FC4","#B87A6A"]}, "legend": null},
       "detail": {"field": "s"}
      }},
     {"transform": [{"filter": "datum.s != 'D'"}],
      "mark": {"type": "line", "interpolate": "monotone", "strokeWidth": 1.5, "color": "#FF2D9A"},
      "encoding": {"x": {"field": "x", "type": "quantitative"}, "y": {"field": "e", "type": "quantitative"}, "detail": {"field": "s"}}},
     {"transform": [{"filter": "datum.s == 'D'"}],
      "mark": {"type": "line", "interpolate": "monotone", "strokeWidth": 1.5, "color": "#FF3030"},
      "encoding": {"x": {"field": "x", "type": "quantitative"}, "y": {"field": "e", "type": "quantitative"}}},
     {"mark": {"type": "point", "shape": "circle", "filled": false, "color": "#AAAAAA", "size": 10, "strokeWidth": 0.7},
      "encoding": {"x": {"field": "x", "type": "quantitative"}, "y": {"field": "d", "type": "quantitative"}}},
     {"data": {"values": [{"x":518.0,"y":3.4,"x2":517.2,"y2":2.6,"c":"q"},{"x":516.7,"y":5.0,"x2":515.9,"y2":4.0,"c":"u"},{"x":514.3,"y":2.9,"x2":515.0,"y2":2.3,"c":"r"}]},
      "mark": {"type": "rule", "strokeWidth": 0.8},
      "encoding": {"x": {"field": "x", "type": "quantitative"}, "y": {"field": "y", "type": "quantitative"}, "x2": {"field": "x2"}, "y2": {"field": "y2"}, "color": {"field": "c", "type": "nominal", "legend": null}}},
     {"data": {"values": [{"x":518.5,"y":3.7,"t":"V⁵⁺ 2p₃/₂","c":"q"},{"x":517.3,"y":5.35,"t":"V⁴⁺ 2p₃/₂","c":"u"},{"x":513.5,"y":2.85,"t":"V³⁺ 2p₃/₂","c":"r"}]},
      "mark": {"type": "text", "baseline": "middle", "fontSize": 7},
      "encoding": {"x": {"field": "x", "type": "quantitative"}, "y": {"field": "y", "type": "quantitative"}, "text": {"field": "t"}, "color": {"field": "c", "type": "nominal", "legend": null}}},
     {"data": {"values": [{"x":519.8,"y":12.9,"t":"V 2p₃/₂"}]},
      "mark": {"type": "text", "align": "left", "baseline": "middle", "fontSize": 9},
      "encoding": {"x": {"field": "x", "type": "quantitative"}, "y": {"field": "y", "type": "quantitative"}, "text": {"field": "t"}}},
     {"data": {"values": [{"x":512.3,"y":9.1,"t":"C-1.6V"},{"x":512.3,"y":4.6,"t":"D-0.2V"},{"x":512.3,"y":0.6,"t":"Ptistine"}]},
      "mark": {"type": "text", "align": "right", "baseline": "middle", "fontSize": 7.5},
      "encoding": {"x": {"field": "x", "type": "quantitative"}, "y": {"field": "y", "type": "quantitative"}, "text": {"field": "t"}}}
    ]
   }
   ]
  },
  {
   "spacing": 0,
   "bounds": "flush",
   "resolve": {"scale": {"color": "independent", "shape": "independent", "size": "independent", "angle": "independent"}, "legend": {"color": "independent", "shape": "independent"}},
   "hconcat": [
   {
    "width": 104, "height": 321,
    "title": {"text": "h", "dx": -56, "dy": 19.5},
    "layer": [
     {"data": {"values": [
{"x":103,"I":0.4,"II":2.3,"III":4.3,"IV":6.2,"V":8.2,"VI":10.1,"VII":12.0,"VIII":14.0,"IX":15.9,"X":17.9,"XI":19.8,"XII":21.7,"XIII":23.7,"XIV":25.6,"XV":27.6},
{"x":112,"I":1.5,"II":3.4,"III":5.4,"IV":7.3,"V":9.3,"VI":11.2,"VII":13.1,"VIII":15.1,"IX":17.0,"X":19.0,"XI":20.9,"XII":22.8,"XIII":24.8,"XIV":26.7,"XV":28.7},
{"x":130,"I":1.75,"II":3.65,"III":5.65,"IV":7.55,"V":9.55,"VI":11.45,"VII":13.35,"VIII":15.35,"IX":17.25,"X":19.25,"XI":21.15,"XII":23.05,"XIII":25.05,"XIV":26.95,"XV":28.95},
{"x":200,"I":1.8,"II":3.7,"III":5.7,"IV":7.6,"V":9.6,"VI":11.5,"VII":13.4,"VIII":15.4,"IX":17.3,"X":19.3,"XI":21.2,"XII":23.1,"XIII":25.1,"XIV":27.0,"XV":29.0},
{"x":300,"I":2.05,"II":3.95,"III":5.95,"IV":7.85,"V":9.85,"VI":11.75,"VII":13.65,"VIII":15.65,"IX":17.55,"X":19.55,"XI":21.45,"XII":23.35,"XIII":25.35,"XIV":27.25,"XV":29.25},
{"x":400,"I":2.5,"II":4.4,"III":6.4,"IV":8.3,"V":10.3,"VI":12.2,"VII":14.1,"VIII":16.1,"IX":18.0,"X":20.0,"XI":21.9,"XII":23.8,"XIII":25.8,"XIV":27.7,"XV":29.7},
{"x":445,"I":2.8,"II":4.7,"III":6.7,"IV":8.6,"V":10.6,"VI":12.5,"VII":14.4,"VIII":16.4,"IX":18.3,"X":20.3,"XI":22.2,"XII":24.1,"XIII":26.1,"XIV":28.0,"XV":30.0},
{"x":475,"I":2.5,"II":4.4,"III":6.4,"IV":8.3,"V":10.3,"VI":12.2,"VII":14.1,"VIII":16.1,"IX":18.0,"X":20.0,"XI":21.9,"XII":23.8,"XIII":25.8,"XIV":27.7,"XV":29.7},
{"x":510,"I":2.15,"II":4.05,"III":6.05,"IV":7.95,"V":9.95,"VI":11.85,"VII":13.75,"VIII":15.75,"IX":17.65,"X":19.65,"XI":21.55,"XII":23.45,"XIII":25.45,"XIV":27.35,"XV":29.35},
{"x":545,"I":2.2,"II":4.1,"III":6.1,"IV":8.0,"V":10.0,"VI":11.9,"VII":13.8,"VIII":15.8,"IX":17.7,"X":19.7,"XI":21.6,"XII":23.5,"XIII":25.5,"XIV":27.4,"XV":29.4},
{"x":610,"I":2.5,"II":4.4,"III":6.4,"IV":8.3,"V":10.3,"VI":12.2,"VII":14.1,"VIII":16.1,"IX":18.0,"X":20.0,"XI":21.9,"XII":23.8,"XIII":25.8,"XIV":27.7,"XV":29.7},
{"x":640,"I":2.35,"II":4.25,"III":6.25,"IV":8.15,"V":10.15,"VI":12.05,"VII":13.95,"VIII":15.95,"IX":17.85,"X":19.85,"XI":21.75,"XII":23.65,"XIII":25.65,"XIV":27.55,"XV":29.55},
{"x":680,"I":2.4,"II":4.3,"III":6.3,"IV":8.2,"V":10.2,"VI":12.1,"VII":14.0,"VIII":16.0,"IX":17.9,"X":19.9,"XI":21.8,"XII":23.7,"XIII":25.7,"XIV":27.6,"XV":29.6},
{"x":705,"I":2.4,"II":4.3,"III":6.3,"IV":8.2,"V":10.2,"VI":12.1,"VII":14.0,"VIII":16.0,"IX":17.9,"X":19.9,"XI":21.8,"XII":23.7,"XIII":25.7,"XIV":27.6,"XV":29.6}
      ]},
      "transform": [{"fold": ["I","II","III","IV","V","VI","VII","VIII","IX","X","XI","XII","XIII","XIV","XV"], "as": ["lab","val"]}],
      "mark": {"type": "line", "interpolate": "monotone", "strokeWidth": 1.3},
      "encoding": {
       "x": {"field": "x", "type": "quantitative", "scale": {"domain": [95, 705], "nice": false, "zero": false}, "axis": {"values": [200,400,600], "title": "Raman shift (cm⁻¹)", "titleFontSize": 13.5}},
       "y": {"field": "val", "type": "quantitative", "scale": {"domain": [0, 32.1], "nice": false}, "axis": {"labels": false, "ticks": false, "title": "Intensity (a.u.)", "titlePadding": 17}},
       "color": {"field": "lab", "type": "nominal", "scale": {"domain": ["I","II","III","IV","V","VI","VII","VIII","IX","X","XI","XII","XIII","XIV","XV"], "range": ["#505050","#EE2E5E","#1E6A78","#3E9A5E","#A466D6","#E89A30","#2EC4C4","#6E3A78","#8C8A30","#FF8A1E","#4E8C8C","#5EA08A","#46B4A4","#FF6EB4","#0E6E6A"]}, "legend": null}
      }},
     {"data": {"values": [{"l":"I","y":2.85},{"l":"II","y":4.75},{"l":"III","y":6.75},{"l":"IV","y":8.65},{"l":"V","y":10.65},{"l":"VI","y":12.55},{"l":"VII","y":14.45},{"l":"VIII","y":16.45},{"l":"IX","y":18.35},{"l":"X","y":20.35},{"l":"XI","y":22.25},{"l":"XII","y":24.15},{"l":"XIII","y":26.15},{"l":"XIV","y":28.05},{"l":"XV","y":30.05}]},
      "mark": {"type": "text", "baseline": "middle", "fontSize": 7.5, "color": "#111"},
      "encoding": {"x": {"datum": 238}, "y": {"field": "y", "type": "quantitative"}, "text": {"field": "l"}}}
    ]
   },
   {
    "width": 70, "height": 321,
    "layer": [
     {"data": {"values": [
{"n":1,"l":"I","v":0.39,"y":2.4},{"n":2,"l":"II","v":0.71,"y":2.4},{"n":3,"l":"III","v":0.92,"y":3.4},{"n":4,"l":"IV","v":1.01,"y":7.1},{"n":5,"l":"V","v":1.07,"y":11.6},{"n":6,"l":"VI","v":1.23,"y":15.4},{"n":7,"l":"VII","v":1.36,"y":16.3},{"n":8,"l":"VIII","v":1.51,"y":17.1},{"n":9,"l":"IX","v":1.25,"y":18.1},{"n":10,"l":"X","v":1.03,"y":20.1},{"n":11,"l":"XI","v":0.95,"y":22.3},{"n":12,"l":"XII","v":0.78,"y":24.6},{"n":13,"l":"XIII","v":0.71,"y":26.4},{"n":14,"l":"XIV","v":0.62,"y":29.0},{"n":15,"l":"XV","v":0.39,"y":29.8}
      ]},
      "encoding": {
       "x": {"field": "v", "type": "quantitative", "scale": {"domain": [0.37, 1.69], "nice": false, "zero": false}, "axis": {"values": [0.5,1.0,1.5], "format": ".1f", "title": "Voltage (V)", "titleFontSize": 13.5}},
       "y": {"field": "y", "type": "quantitative", "scale": {"domain": [0, 32.1], "nice": false}, "axis": null}
      },
      "layer": [
       {"mark": {"type": "line", "interpolate": "catmull-rom", "color": "#00E5EE", "strokeWidth": 1.5}, "encoding": {"order": {"field": "n", "type": "quantitative"}}},
       {"mark": {"type": "point", "filled": true, "size": 40, "opacity": 1},
        "encoding": {"color": {"field": "l", "type": "nominal", "scale": {"domain": ["I","II","III","IV","V","VI","VII","VIII","IX","X","XI","XII","XIII","XIV","XV"], "range": ["#505050","#EE2E5E","#1E6A78","#3E9A5E","#A466D6","#D89A50","#2EC4C4","#6E3A78","#8C8A30","#FF8A1E","#4E8C8C","#5EA08A","#46B4A4","#F03050","#0E6E6A"]}, "legend": null}}}
      ]},
     {"data": {"values": [{"l":"I","x":0.39,"y":1.4},{"l":"II","x":0.7,"y":1.4},{"l":"III","x":0.95,"y":2.7},{"l":"IV","x":1.1,"y":6.5},{"l":"V","x":1.16,"y":11.5},{"l":"VI","x":1.24,"y":14.4},{"l":"VII","x":1.45,"y":15.4},{"l":"VIII","x":1.57,"y":17.1},{"l":"IX","x":1.24,"y":19.2},{"l":"X","x":1.11,"y":20.5},{"l":"XI","x":1.03,"y":22.9},{"l":"XII","x":0.86,"y":25.2},{"l":"XIII","x":0.8,"y":27.0},{"l":"XIV","x":0.67,"y":29.5},{"l":"XV","x":0.39,"y":30.6}]},
      "mark": {"type": "text", "align": "left", "baseline": "middle", "fontSize": 7.5, "color": "#111"},
      "encoding": {"x": {"field": "x", "type": "quantitative"}, "y": {"field": "y", "type": "quantitative"}, "text": {"field": "l"}}},
     {"data": {"values": [{"x":0.575,"y":3.7,"x2":1.0,"y2":16.0},{"x":1.03,"y":18.0,"x2":0.45,"y2":28.2}]},
      "mark": {"type": "rule", "color": "#000", "strokeWidth": 1.2},
      "encoding": {"x": {"field": "x", "type": "quantitative"}, "y": {"field": "y", "type": "quantitative"}, "x2": {"field": "x2"}, "y2": {"field": "y2"}}},
     {"data": {"values": [{"x":1.0,"y":16.0,"a":11},{"x":0.45,"y":28.2,"a":-17}]},
      "mark": {"type": "point", "shape": "triangle-up", "filled": true, "color": "#000", "size": 30, "opacity": 1},
      "encoding": {"x": {"field": "x", "type": "quantitative"}, "y": {"field": "y", "type": "quantitative"}, "angle": {"field": "a", "type": "quantitative", "scale": null}}},
     {"data": {"values": [{"x":0.7,"y":9.7,"t":"Charge","a":-79},{"x":0.64,"y":22.2,"t":"Discharge","a":73}]},
      "mark": {"type": "text", "font": "Liberation Sans", "fontWeight": "bold", "fontSize": 8.5, "baseline": "middle"},
      "encoding": {"x": {"field": "x", "type": "quantitative"}, "y": {"field": "y", "type": "quantitative"}, "text": {"field": "t"}, "angle": {"field": "a", "type": "quantitative", "scale": null}}}
    ]
   }
   ]
  }
 ]
}
]
}
